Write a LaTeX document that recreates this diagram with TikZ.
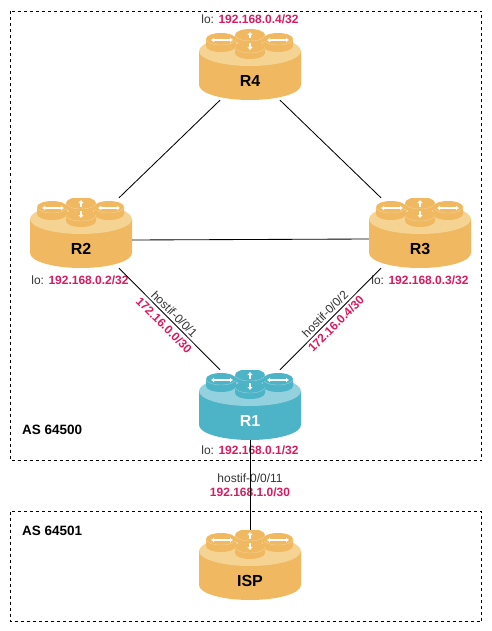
\documentclass[tikz,border=0pt]{standalone}
\usepackage{fontspec}
\setmainfont{Liberation Sans}
\usetikzlibrary{arrows.meta}
\usetikzlibrary{positioning}

\definecolor{goldbody}{HTML}{F0B861}
\definecolor{goldtop}{HTML}{F5D393}
\definecolor{tealbody}{HTML}{4DB3C7}
\definecolor{tealtop}{HTML}{92D1DD}
\definecolor{addrpink}{HTML}{D81B60}
\definecolor{ifgray}{HTML}{333333}

% one small cylinder on the router: x, y of its top, height
\newcommand{\routerdisc}[3]{
  \fill[discfill] (#1-15,#2) -- (#1-15,#2+#3) arc[start angle=180, end angle=360, x radius=15, y radius=-6] -- (#1+15,#2) arc[start angle=0, end angle=180, x radius=15, y radius=-6] -- cycle;
  \draw[discline] (#1-15,#2) arc[start angle=180, end angle=360, x radius=15, y radius=-6];
}

% the whole router, drawn around the middle of its node
\newcommand{\routericon}[2]{
  \begin{scope}[shift={(path picture bounding box.center)}, discfill/.style={fill=#1}, discline/.style={draw=#2, line width=0.4pt}]
    \fill[#1] (-51,-14) -- (-51,20) arc[start angle=180, end angle=360, x radius=51, y radius=-15] -- (51,-14) -- cycle;
    \fill[#2] (0,-14) ellipse[x radius=51, y radius=15];
    % the four small cylinders
    \routerdisc{-29}{-26}{7}
    \routerdisc{28}{-26}{7}
    \draw[routerarrow] (-39,-25) -- (-17,-25);
    \draw[routerarrow] (39,-25) -- (17,-25);
    \routerdisc{0}{-30}{4}
    \draw[routertip] (0,-26.5) -- (0,-33);
    \routerdisc{0}{-18}{6}
    \draw[routertip] (0,-22) -- (0,-15);
  \end{scope}
}

\begin{document}
\begin{tikzpicture}[x=1pt, y=-1pt, every node/.style={inner sep=0pt, font=\fontsize{12}{14}\selectfont, text=ifgray},
    router/.style 2 args={minimum width=102pt, minimum height=70pt, path picture={\routericon{#1}{#2}}},
    goldrouter/.style={router={goldbody}{goldtop}},
    tealrouter/.style={router={tealbody}{tealtop}},
    routername/.style={yshift=-16pt, font=\fontsize{16}{18}\selectfont\bfseries, text=black},
    routerarrow/.style={white, line width=1.6pt, {Latex[length=3pt, width=5pt]}-{Latex[length=3pt, width=5pt]}},
    routertip/.style={white, line width=1.6pt, -{Latex[length=3pt, width=6pt]}},
    asbox/.style={black, line width=0.75pt, dash pattern=on 3pt off 3pt},
    asname/.style={anchor=west, font=\fontsize{13.5}{15}\selectfont\bfseries, text=black},
    addr/.style={font=\fontsize{12}{14}\selectfont\bfseries, text=addrpink},
    link/.style={black, line width=0.85pt}]
  \useasboundingbox (0,0) rectangle (491,631);

  % Dashed AS areas
  \draw[asbox] (10.5,11.5) rectangle (481.5,460.5);
  \draw[asbox] (10.5,511.5) rectangle (481.5,621.5);
  \node[asname] (as1) at (22,430) {AS 64500};
  \node[asname] (as2) at (22,531) {AS 64501};

  % Routers
  \node[goldrouter, label={[routername]center:R4}] (R4) at (250,65) {};
  \node[goldrouter, label={[routername]center:R2}] (R2) at (81,233) {};
  \node[goldrouter, label={[routername]center:R3}] (R3) at (420,233) {};
  \node[tealrouter, label={[routername, text=white]center:R1}] (R1) at (250,405) {};
  \node[goldrouter, label={[routername]center:ISP}] (ISP) at (250,565) {};

  % Loopback addresses
  \node (lo4) at (250,19) {lo: \textcolor{addrpink}{\textbf{192.168.0.4/32}}};
  \node (lo2) at (80,280) {lo: \textcolor{addrpink}{\textbf{192.168.0.2/32}}};
  \node (lo3) at (420,280) {lo: \textcolor{addrpink}{\textbf{192.168.0.3/32}}};
  \node (lo1) at (250,450) {lo: \textcolor{addrpink}{\textbf{192.168.0.1/32}}};

  % Interface labels
  \node[rotate=-45] (if1) at (174.5,314) {hostif-0/0/1};
  \node[addr, rotate=-45] (net1) at (164,325) {172.16.0.0/30};
  \node[rotate=45] (if2) at (325,314) {hostif-0/0/2};
  \node[addr, rotate=45] (net2) at (336,324) {172.16.0.4/30};
  \node (if3) at (250,478) {hostif-0/0/11};
  \node[addr] (net3) at (250,492) {192.168.1.0/30};

  % Links
  \draw[link] ([xshift=-30pt]R4.south) -- ([xshift=38pt]R2.north);
  \draw[link] ([xshift=30pt]R4.south) -- ([xshift=-39pt]R3.north);
  \draw[link] ([yshift=-7pt]R2.east) -- ([yshift=-6pt]R3.west);
  \draw[link] ([xshift=38pt]R2.south) -- ([xshift=-30pt]R1.north);
  \draw[link] ([xshift=-39pt]R3.south) -- ([xshift=30pt]R1.north);
  \draw[link] (R1.south) -- (ISP.north);
\end{tikzpicture}
\end{document}
